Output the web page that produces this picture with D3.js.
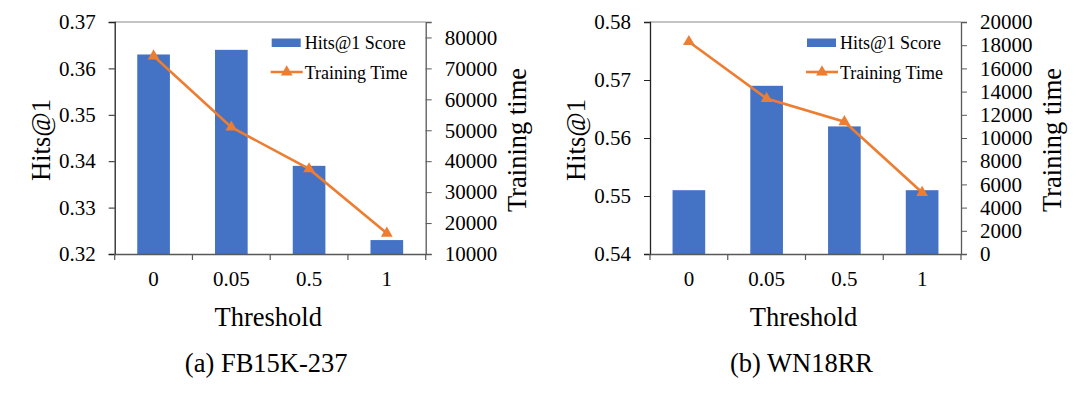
<!DOCTYPE html>
<html>
<head>
<meta charset="utf-8">
<script src="https://cdn.jsdelivr.net/npm/d3@7"></script>
<style>
  html, body { margin: 0; padding: 0; background: #fff; }
</style>
</head>
<body>
<div id="chart"></div>
<script>
// Shared categories
const thresholds = ["0", "0.05", "0.5", "1"];

// (a) FB15K-237
const fbHits = [0.363, 0.364, 0.339, 0.323];
const fbTime = [74000, 51000, 37500, 16700];
const fbHitsTicks = [0.32, 0.33, 0.34, 0.35, 0.36, 0.37];
const fbTimeTicks = [10000, 20000, 30000, 40000, 50000, 60000, 70000, 80000];

// (b) WN18RR
const wnHits = [0.551, 0.569, 0.562, 0.551];
const wnTime = [18300, 13400, 11400, 5300];
const wnHitsTicks = [0.54, 0.55, 0.56, 0.57, 0.58];
const wnTimeTicks = [0, 2000, 4000, 6000, 8000, 10000, 12000, 14000, 16000, 18000, 20000];

const width = 1080;
const height = 397;
const serif = '"Liberation Serif", "Times New Roman", serif';
const barColor = "#4472C4";
const lineColor = "#ED7D31";

const svg = d3.select("#chart")
  .append("svg")
  .attr("width", width)
  .attr("height", height)
  .attr("font-family", serif);

function drawPanel(opts) {
  const { left, right, top, bottom } = opts;

  const x = d3.scaleBand()
    .domain(thresholds)
    .range([left, right])
    .padding(0);

  const yL = d3.scaleLinear().domain(opts.hitsDomain).range([bottom, top]);
  const yR = d3.scaleLinear().domain(opts.timeDomain).range([bottom, top]);

  const g = svg.append("g");

  // top border of plot area
  g.append("line")
    .attr("x1", left).attr("x2", right)
    .attr("y1", top).attr("y2", top)
    .attr("stroke", "#8a8a8a").attr("stroke-width", 1.2);

  // bars
  const barW = x.bandwidth() * 0.42;
  g.selectAll("rect.bar")
    .data(opts.hits)
    .join("rect")
    .attr("class", "bar")
    .attr("x", (d, i) => x(thresholds[i]) + x.bandwidth() / 2 - barW / 2)
    .attr("y", d => yL(d))
    .attr("width", barW)
    .attr("height", d => bottom - yL(d))
    .attr("fill", barColor);

  // left axis
  const axL = g.append("g")
    .attr("transform", `translate(${left},0)`)
    .call(d3.axisLeft(yL).tickValues(opts.hitsTicks).tickFormat(d3.format(".2f")).tickSize(6).tickPadding(13));
  axL.attr("font-family", serif);
  axL.select(".domain").attr("stroke", "#222").attr("stroke-width", 1.3);
  axL.selectAll(".tick line").attr("stroke", "#222");
  axL.selectAll("text").attr("font-size", 21).attr("fill", "#000");

  // right axis
  const axR = g.append("g")
    .attr("transform", `translate(${right},0)`)
    .call(d3.axisRight(yR).tickValues(opts.timeTicks).tickFormat(d3.format("d")).tickSize(6).tickPadding(13));
  axR.attr("font-family", serif);
  axR.select(".domain").attr("stroke", "#595959").attr("stroke-width", 1.3);
  axR.selectAll(".tick line").attr("stroke", "#595959");
  axR.selectAll("text").attr("font-size", 21).attr("fill", "#000");

  // bottom axis: ticks on category boundaries, labels in the middle
  const axB = g.append("g")
    .attr("transform", `translate(0,${bottom})`)
    .call(d3.axisBottom(x).tickSize(0).tickPadding(17));
  axB.attr("font-family", serif);
  axB.select(".domain").attr("stroke", "#595959").attr("stroke-width", 1.3);
  axB.selectAll("text").attr("font-size", 21).attr("fill", "#000");
  const bounds = thresholds.map(t => x(t)).concat([right]);
  g.selectAll("line.xtick")
    .data(bounds)
    .join("line")
    .attr("class", "xtick")
    .attr("x1", d => d).attr("x2", d => d)
    .attr("y1", bottom).attr("y2", bottom + 6)
    .attr("stroke", "#595959").attr("stroke-width", 1.2);

  // training time line
  const line = d3.line()
    .x((d, i) => x(thresholds[i]) + x.bandwidth() / 2)
    .y(d => yR(d));
  g.append("path")
    .datum(opts.time)
    .attr("d", line)
    .attr("fill", "none")
    .attr("stroke", lineColor)
    .attr("stroke-width", 2.6);
  const tri = d3.symbol().type(d3.symbolTriangle).size(60);
  g.selectAll("path.marker")
    .data(opts.time)
    .join("path")
    .attr("class", "marker")
    .attr("d", tri)
    .attr("transform", (d, i) => `translate(${x(thresholds[i]) + x.bandwidth() / 2},${yR(d)})`)
    .attr("fill", lineColor);

  // legend
  const lx = left + 157;
  g.append("rect")
    .attr("x", lx).attr("y", 38.5)
    .attr("width", 29).attr("height", 8.5)
    .attr("fill", barColor);
  g.append("text")
    .attr("x", lx + 33).attr("y", 48.5)
    .attr("font-size", 18)
    .text("Hits@1 Score");
  g.append("line")
    .attr("x1", lx - 1).attr("x2", lx + 31)
    .attr("y1", 72).attr("y2", 72)
    .attr("stroke", lineColor).attr("stroke-width", 2.6);
  g.append("path")
    .attr("d", tri)
    .attr("transform", `translate(${lx + 15},72)`)
    .attr("fill", lineColor);
  g.append("text")
    .attr("x", lx + 33).attr("y", 78.5)
    .attr("font-size", 18)
    .text("Training Time");

  // axis titles
  g.append("text")
    .attr("transform", `translate(${left - 74},${(top + bottom) / 2 + 2}) rotate(-90)`)
    .attr("text-anchor", "middle")
    .attr("dy", "0.35em")
    .attr("font-size", 26.5)
    .text("Hits@1");
  g.append("text")
    .attr("transform", `translate(${right + 91},${(top + bottom) / 2 + 2}) rotate(-90)`)
    .attr("text-anchor", "middle")
    .attr("dy", "0.35em")
    .attr("font-size", 26.5)
    .text("Training time");
  g.append("text")
    .attr("x", (left + right) / 2 - 2).attr("y", 326)
    .attr("text-anchor", "middle")
    .attr("font-size", 26.5)
    .text("Threshold");
  g.append("text")
    .attr("x", (left + right) / 2 - 4).attr("y", 372)
    .attr("text-anchor", "middle")
    .attr("font-size", 26.5)
    .text(opts.caption);
}

drawPanel({
  left: 114.7, right: 425.7, top: 22, bottom: 254,
  hits: fbHits, time: fbTime,
  hitsDomain: [0.32, 0.37], timeDomain: [10000, 85000],
  hitsTicks: fbHitsTicks, timeTicks: fbTimeTicks,
  caption: "(a) FB15K-237"
});

drawPanel({
  left: 650, right: 961, top: 22, bottom: 254,
  hits: wnHits, time: wnTime,
  hitsDomain: [0.54, 0.58], timeDomain: [0, 20000],
  hitsTicks: wnHitsTicks, timeTicks: wnTimeTicks,
  caption: "(b) WN18RR"
});
</script>
</body>
</html>
